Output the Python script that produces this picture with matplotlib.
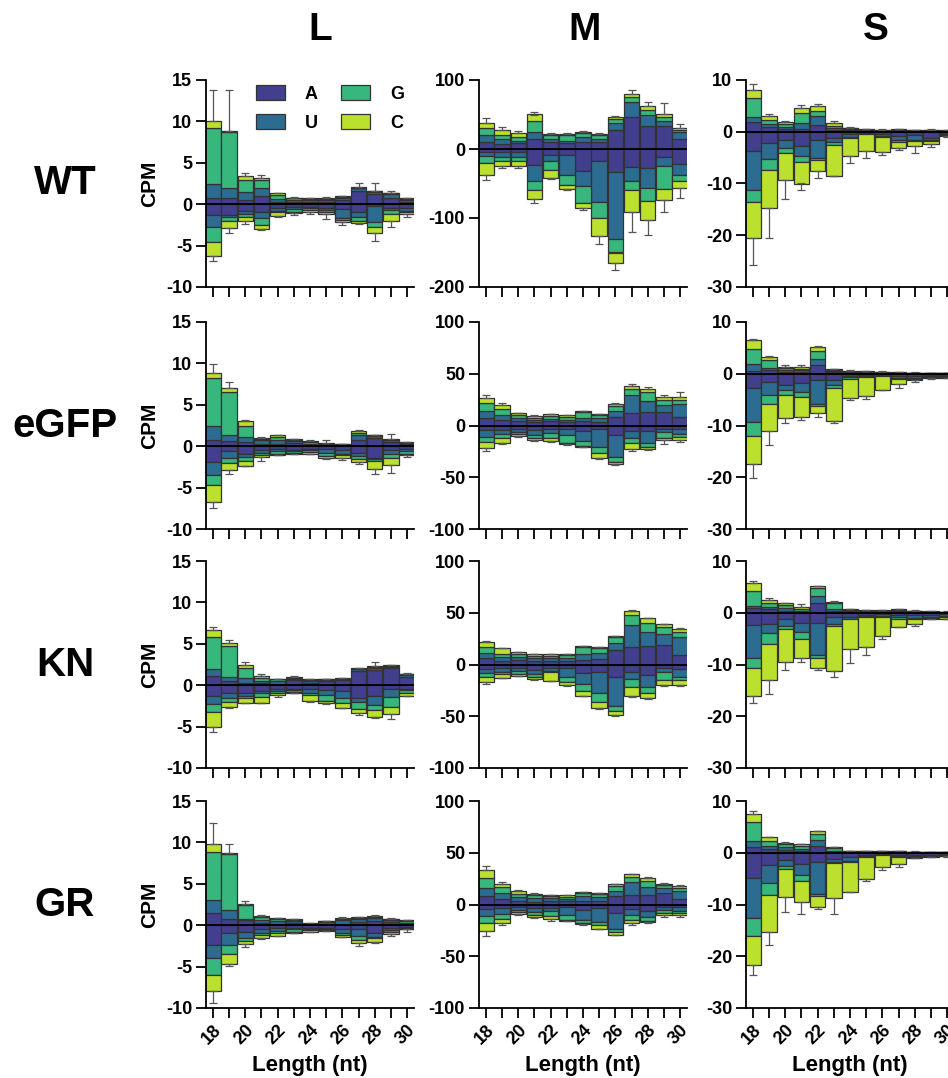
import numpy as np
import matplotlib
matplotlib.use("Agg")
import matplotlib.pyplot as plt
from matplotlib.patches import Patch

plt.rcParams['font.family'] = ['Liberation Sans', 'DejaVu Sans']
plt.rcParams['axes.unicode_minus'] = False

lengths = list(range(18, 31))
nucleotides = ["A", "U", "G", "C"]
nuc_colors = ["#413f8e", "#2d6c91", "#38b77c", "#bce02e"]
row_names = ["WT", "eGFP", "KN", "GR"]
col_names = ["L", "M", "S"]

# ---------------- WT ----------------
WT_L_sense = [[.8, .8, .5, 1.0, .3, .3, .3, .3, .5, 1.6, 1.2, .8, .3],
              [1.6, 1.2, 1.0, 1.0, .3, .2, .2, .2, .3, .3, .3, .4, .2],
              [6.8, 6.7, 1.4, .9, .5, .2, .1, .1, .1, .1, .1, .1, .1],
              [.9, .2, .5, .3, .2, .1, .1, .1, .05, .1, .05, .1, .1]]
WT_L_anti = [[1.3, 1.3, .8, 1.0, .4, .3, .3, .4, .6, 1.0, .2, .4, .5],
             [1.5, .3, .4, .7, .4, .3, .2, .3, 1.1, .6, 2.0, .3, .3],
             [1.8, .4, .3, .8, .2, .3, .2, .2, .2, .4, .5, .5, .2],
             [1.6, .9, .5, .5, .4, .2, .2, .3, .2, .3, .8, .8, .2]]
WT_L_err_up = [3.7, 4.9, .4, .3, .1, .1, .1, .2, .1, .4, .9, .2, .1]
WT_L_err_dn = [.6, .6, .4, .1, .2, .2, .3, .6, .4, .1, .9, .7, .4]

WT_M_sense = [[10, 7, 8, 15, 10, 8, 10, 10, 27, 46, 34, 33, 14],
              [10, 7, 4, 10, 5, 4, 7, 5, 10, 22, 16, 7, 11],
              [10, 6, 6, 15, 5, 8, 6, 5, 6, 8, 7, 7, 3],
              [8, 7, 5, 10, 2, 2, 2, 2, 4, 4, 6, 4, 2]]
WT_M_anti = [[5, 5, 5, 23, 8, 8, 32, 17, 33, 26, 27, 12, 22],
             [5, 7, 7, 24, 10, 29, 21, 60, 97, 20, 30, 13, 15],
             [10, 6, 6, 13, 12, 15, 25, 23, 20, 14, 18, 33, 9],
             [17, 6, 6, 13, 12, 6, 8, 26, 15, 32, 28, 16, 11]]
WT_M_err_up = [7, 5, 3, 4, 1, 1, 1, 1, 1, 5, 5, 16, 6]
WT_M_err_dn = [8, 4, 4, 5, 1, 1, 2, 12, 11, 28, 22, 17, 14]

WT_S_sense = [[1.8, 1.0, .6, .5, 1.3, .3, .3, .2, .1, .2, .1, .1, .1],
              [1.0, .5, .4, 1.2, 1.7, .4, .2, .1, .1, .1, .1, .1, .05],
              [3.7, .8, .5, 1.9, 1.1, .5, .2, .1, .1, .1, .05, .1, .05],
              [1.5, .7, .3, .9, .9, .5, .1, .1, .1, .1, .05, .1, .1]]
WT_S_anti = [[3.8, 2.2, 1.5, 2.8, 1.6, 1.2, .5, .3, .4, .8, .7, 1.2, .3],
             [7.4, 3.1, 1.7, 1.9, 3.4, .8, .5, .1, .4, .7, .8, .4, .2],
             [2.3, 2.1, 1.0, 1.2, .5, .5, .2, .1, .2, .4, .3, .2, .1],
             [7.1, 7.3, 5.1, 4.1, 2.1, 6.0, 3.5, 3.2, 2.9, 1.2, .9, .6, .2]]
WT_S_err_up = [1.2, .4, .2, .7, .3, .3, .1, .1, .1, .1, .1, .2, .1]
WT_S_err_dn = [5.2, 5.9, 3.7, 1.3, 1.3, .1, 1.4, 1.3, .6, .5, 1.4, .5, .2]

# ---------------- eGFP ----------------
eGFP_L_sense = [[.7, .6, .5, .3, .3, .4, .2, .1, .1, .8, 1.0, .5, .2],
                [1.8, .7, .6, .4, .4, .2, .1, .1, .1, .5, .2, .2, .1],
                [5.7, 5.2, 1.4, .2, .4, .2, .2, .1, .05, .3, .1, .1, .1],
                [.6, .5, .5, .1, .2, .1, .1, .1, .05, .2, .1, .1, .1]]
eGFP_L_anti = [[1.9, .6, 1.0, .5, .3, .4, .3, .3, .5, .8, 1.4, .4, .3],
               [1.6, .8, .3, .3, .3, .2, .2, .5, .4, .4, .2, .5, .3],
               [1.2, .6, .5, .3, .3, .2, .2, .4, .2, .3, .2, .5, .3],
               [2.0, .9, .6, .2, .2, .1, .2, .2, .3, .4, 1.0, .9, .2]]
eGFP_L_err_up = [1.1, .8, .2, .1, 0, 0, .2, .3, 0, .2, 0, .6, 0]
eGFP_L_err_dn = [.8, .5, 0, .5, 0, .1, .1, .1, .3, .2, .6, .9, .2]

eGFP_M_sense = [[7, 5, 4, 3, 4, 3, 4, 3, 8, 12, 13, 13, 8],
                [7, 5, 3, 2, 2, 2, 3, 4, 6, 17, 11, 7, 13],
                [8, 6, 3, 2, 3, 3, 6, 3, 5, 6, 8, 5, 4],
                [5, 4, 2, 2, 2, 2, 1, 1, 2, 3, 3, 3, 3]]
eGFP_M_anti = [[4, 4, 3, 4, 3, 3, 5, 3, 9, 5, 5, 3, 3],
               [7, 4, 3, 5, 4, 6, 10, 18, 21, 7, 12, 3, 5],
               [5, 4, 2, 3, 5, 8, 5, 6, 5, 5, 4, 6, 3],
               [6, 5, 2, 2, 3, 1, 1, 4, 2, 6, 2, 2, 3]]
eGFP_M_err_up = [2, 2, 0, 1, 0, 0, 0, 0, 1, 2, 2, 1, 4]
eGFP_M_err_dn = [3, 1, 1, 1, 1, 1, 0, 1, 1, 2, 1, 4, 2]

eGFP_S_sense = [[.5, .8, .4, .4, 1.7, .3, .2, .2, .1, .1, .1, .1, .05],
                [1.3, .4, .3, .3, 1.1, .2, .1, .1, .1, .1, 0, 0, .05],
                [3.0, 1.4, .4, .3, 1.6, .2, .1, .1, .1, 0, 0, 0, 0],
                [1.8, .6, .3, .3, .7, .2, .2, .1, .1, .1, .1, 0, 0]]
eGFP_S_anti = [[2.7, 1.5, 2.1, 1.8, 1.3, 1.2, .4, .3, .2, .4, .5, .3, .2],
               [6.6, 2.7, 1.0, 1.8, 4.5, 1.0, .3, .2, .1, .4, .4, .2, .3],
               [2.7, 1.7, 1.0, .9, .5, .6, .3, .2, .1, .2, .1, .1, .1],
               [5.4, 5.2, 4.5, 3.9, 1.3, 6.4, 3.6, 3.6, 2.8, .9, .3, .2, .2]]
eGFP_S_err_up = [.1, .3, .2, .3, .2, .1, .1, 0, .1, 0, .1, .1, .1]
eGFP_S_err_dn = [2.8, 2.7, .9, .6, .7, .4, .5, .5, 0, .8, .2, .2, .1]

# ---------------- KN ----------------
KN_L_sense = [[1.1, .5, .3, .3, .2, .6, .3, .5, .6, 1.7, 1.8, 2.1, 1.0],
              [.9, .5, .6, .2, .3, .2, .2, .1, .1, .2, .3, .1, .2],
              [3.8, 3.7, 1.2, .4, .2, .1, .1, .1, .1, .1, .1, .1, .1],
              [.9, .4, .4, .2, .1, .1, .1, .1, .1, .1, .1, .1, .1]]
KN_L_anti = [[1.3, 1.0, .9, .7, .4, .4, .5, .6, .7, 1.5, 1.3, .5, .4],
             [1.0, .5, .4, .3, .3, .2, .4, .6, .9, .5, 1.1, .9, .2],
             [.9, .5, .3, .4, .2, .2, .3, .7, .6, .9, .6, 1.2, .3],
             [1.9, .6, .5, .7, .3, .1, .7, .3, .6, .5, .8, .9, .4]]
KN_L_err_up = [.3, .4, .3, .2, 0, .1, .1, 0, 0, 0, .5, 0, .1]
KN_L_err_dn = [.5, .2, 0, 0, .2, .1, .1, .1, 0, .2, .2, .6, 0]

KN_M_sense = [[6, 3, 4, 3, 3, 3, 4, 5, 14, 17, 18, 19, 9],
              [5, 4, 3, 3, 3, 3, 6, 6, 7, 21, 13, 10, 18],
              [6, 3, 3, 2, 2, 3, 7, 5, 6, 10, 9, 7, 4],
              [5, 6, 2, 2, 2, 1, 1, 1, 1, 4, 5, 3, 3]]
KN_M_anti = [[4, 3, 3, 5, 3, 3, 8, 7, 12, 7, 10, 3, 4],
             [4, 4, 3, 4, 3, 9, 11, 21, 28, 7, 12, 4, 8],
             [4, 2, 3, 3, 1, 5, 7, 8, 5, 8, 6, 8, 3],
             [5, 4, 2, 2, 9, 3, 4, 6, 4, 8, 4, 5, 5]]
KN_M_err_up = [1, 0, 0, 0, 0, 0, 0, 0, 0, 1, 0, 0, 1]
KN_M_err_dn = [2, 0, 0, 1, 0, 1, 0, 1, 1, 1, 1, 1, 1]

KN_S_sense = [[1.0, .7, .4, .2, 1.8, .3, .3, .2, .2, .3, .2, .1, .05],
              [.4, .4, .5, .2, 1.4, .4, .2, .1, .1, .2, .1, .1, .05],
              [2.8, .7, .6, .3, 1.5, 1.1, .1, .1, .1, .1, 0, 0, .05],
              [1.6, .6, .4, .4, .4, .3, .1, .1, .1, .1, .1, .1, .05]]
KN_S_anti = [[2.4, 2.2, 1.3, 1.9, 1.9, .8, .8, .4, .3, .5, .5, .4, .3],
             [6.3, 1.8, 1.3, 1.8, 6.3, 1.3, .4, .3, .3, .4, .5, .4, .3],
             [1.9, 2.1, .5, 1.3, .5, .4, .1, .2, .2, .3, .3, .2, .3],
             [5.4, 6.9, 6.4, 3.8, 1.9, 8.7, 5.8, 5.7, 3.7, 1.5, .8, .3, .4]]
KN_S_err_up = [.3, .5, 0, .5, .1, .1, 0, 0, 0, .1, .1, .1, .1]
KN_S_err_dn = [1.4, 2.7, 1.5, .8, .4, 1.3, 2.7, 1.6, .6, .1, .4, 0, 0]

# ---------------- GR ----------------
GR_L_sense = [[1.5, .7, .6, .3, .2, .3, .1, .2, .2, .4, .5, .4, .2],
              [1.6, 1.1, .2, .3, .3, .2, .05, .2, .4, .3, .4, .2, .1],
              [5.7, 6.8, 1.6, .4, .2, .1, .05, .05, .2, .2, .1, .1, .2],
              [1.0, .1, .2, .1, .2, .1, .05, .05, .1, .1, .1, .05, .1]]
GR_L_anti = [[2.4, 1.0, .8, .5, .3, .3, .3, .3, .4, .5, 1.0, .3, .2],
             [1.6, 1.4, .7, .4, .4, .2, .2, .2, .5, .8, .4, .3, .1],
             [2.0, 1.1, .4, .3, .3, .3, .1, .1, .3, .5, .2, .2, .1],
             [1.9, 1.2, .4, .4, .3, .2, .2, .1, .2, .3, .4, .3, .1]]
GR_L_err_up = [2.5, 1.1, .3, .1, 0, 0, 0, 0, .1, 0, .1, .1, 0]
GR_L_err_dn = [1.5, .2, .3, .1, 0, 0, 0, 0, 0, .4, .1, .2, .3]

GR_M_sense = [[8, 5, 3, 2, 3, 3, 3, 3, 8, 9, 9, 11, 5],
              [8, 6, 4, 4, 3, 2, 5, 4, 5, 13, 8, 5, 8],
              [10, 6, 3, 3, 2, 2, 3, 3, 5, 5, 6, 3, 3],
              [7, 3, 3, 1, 1, 2, 1, 1, 2, 2, 3, 1, 2]]
GR_M_anti = [[4, 3, 2, 3, 3, 2, 5, 3, 8, 4, 6, 2, 2],
             [7, 6, 3, 4, 3, 8, 10, 14, 16, 6, 6, 3, 4],
             [7, 5, 2, 3, 5, 5, 3, 3, 3, 5, 4, 3, 2],
             [8, 4, 2, 2, 3, 1, 1, 4, 2, 3, 1, 2, 2]]
GR_M_err_up = [4, 2, 1, 1, 0, 0, 0, 0, 0, 0, 1, 1, 1]
GR_M_err_dn = [4, 2, 1, 1, 2, 0, 1, 0, 0, 2, 1, 2, 2]

GR_S_sense = [[1.2, .8, .5, .4, 1.3, .1, .1, .1, .1, .1, .1, .05, .05],
              [1.1, .5, .6, .4, 1.1, .2, .1, .1, .1, .1, 0, .05, .05],
              [3.6, 1.0, .5, .5, 1.3, .7, .1, .1, .1, .1, .1, 0, 0],
              [1.6, .7, .2, .3, .5, .1, .1, 0, 0, .1, 0, .1, 0]]
GR_S_anti = [[4.9, 2.4, 1.4, 2.1, 1.7, 1.2, .9, .4, .3, .4, .5, .4, .3],
             [7.7, 3.5, 1.2, 2.2, 6.3, .6, .6, .3, .1, .3, .2, .2, .2],
             [3.4, 2.3, .6, 1.1, .4, .2, .2, .2, .1, .2, .2, .1, .1],
             [5.6, 7.2, 5.3, 4.1, 2.0, 6.7, 5.8, 4.1, 2.3, 1.2, .1, .1, .1]]
GR_S_err_up = [.5, .1, .3, .1, 0, .1, 0, 0, .1, 0, .1, 0, .1]
GR_S_err_dn = [2.1, 2.4, 2.9, 2.3, .5, 3.1, 0, .5, .6, .6, 0, .1, .1]

# y-axis setups per column (row 0 of M differs)
L_limits, L_ticks = (-10, 15), [-10, -5, 0, 5, 10, 15]
M_limits_WT, M_ticks_WT = (-200, 100), [-200, -100, 0, 100]
M_limits, M_ticks = (-100, 100), [-100, -50, 0, 50, 100]
S_limits, S_ticks = (-30, 10), [-30, -20, -10, 0, 10]

panels = {
    ("WT", "L"): (WT_L_sense, WT_L_anti, WT_L_err_up, WT_L_err_dn),
    ("WT", "M"): (WT_M_sense, WT_M_anti, WT_M_err_up, WT_M_err_dn),
    ("WT", "S"): (WT_S_sense, WT_S_anti, WT_S_err_up, WT_S_err_dn),
    ("eGFP", "L"): (eGFP_L_sense, eGFP_L_anti, eGFP_L_err_up, eGFP_L_err_dn),
    ("eGFP", "M"): (eGFP_M_sense, eGFP_M_anti, eGFP_M_err_up, eGFP_M_err_dn),
    ("eGFP", "S"): (eGFP_S_sense, eGFP_S_anti, eGFP_S_err_up, eGFP_S_err_dn),
    ("KN", "L"): (KN_L_sense, KN_L_anti, KN_L_err_up, KN_L_err_dn),
    ("KN", "M"): (KN_M_sense, KN_M_anti, KN_M_err_up, KN_M_err_dn),
    ("KN", "S"): (KN_S_sense, KN_S_anti, KN_S_err_up, KN_S_err_dn),
    ("GR", "L"): (GR_L_sense, GR_L_anti, GR_L_err_up, GR_L_err_dn),
    ("GR", "M"): (GR_M_sense, GR_M_anti, GR_M_err_up, GR_M_err_dn),
    ("GR", "S"): (GR_S_sense, GR_S_anti, GR_S_err_up, GR_S_err_dn),
}

W, H = 948, 1078
fig = plt.figure(figsize=(W / 100, H / 100), dpi=100)

col_left_px = {"L": 206, "M": 479, "S": 746}
ax_w_px = 208
row_top_px = [80, 322, 561, 801]
ax_h_px = 207

x = np.array(lengths)
edge = "#333333"

for ri, rname in enumerate(row_names):
    for cname in col_names:
        sense, anti, eup, edn = panels[(rname, cname)]
        left = col_left_px[cname] / W
        bottom = 1 - (row_top_px[ri] + ax_h_px) / H
        ax = fig.add_axes([left, bottom, ax_w_px / W, ax_h_px / H])

        pos_base = np.zeros(len(x))
        neg_base = np.zeros(len(x))
        for ni, nuc in enumerate(nucleotides):
            s = np.array(sense[ni], dtype=float)
            a = np.array(anti[ni], dtype=float)
            ax.bar(x, s, bottom=pos_base, width=0.96, color=nuc_colors[ni],
                   edgecolor=edge, linewidth=0.9, zorder=2)
            ax.bar(x, -a, bottom=-neg_base, width=0.96, color=nuc_colors[ni],
                   edgecolor=edge, linewidth=0.9, zorder=2)
            pos_base = pos_base + s
            neg_base = neg_base + a

        ax.errorbar(x, pos_base, yerr=[np.zeros(len(x)), np.array(eup)],
                    fmt="none", ecolor="#555555", elinewidth=0.9, capsize=3,
                    capthick=0.9, zorder=3)
        ax.errorbar(x, -neg_base, yerr=[np.array(edn), np.zeros(len(x))],
                    fmt="none", ecolor="#555555", elinewidth=0.9, capsize=3,
                    capthick=0.9, zorder=3)
        ax.axhline(0, color="black", lw=1.3, zorder=4)

        if cname == "L":
            lims, ticks = L_limits, L_ticks
        elif cname == "M":
            lims, ticks = (M_limits_WT, M_ticks_WT) if rname == "WT" else (M_limits, M_ticks)
        else:
            lims, ticks = S_limits, S_ticks
        ax.set_ylim(*lims)
        ax.set_yticks(ticks)
        ax.set_yticklabels([str(t) for t in ticks], fontsize=13, fontweight="bold")
        ax.set_xlim(17.57, 30.43)
        ax.set_xticks(lengths)
        if ri == len(row_names) - 1:
            ax.set_xticklabels([str(l) if l % 2 == 0 else "" for l in lengths],
                               rotation=45, ha="right", rotation_mode="anchor",
                               fontsize=13, fontweight="bold")
            ax.set_xlabel("Length (nt)", fontsize=16, fontweight="bold", labelpad=5)
        else:
            ax.set_xticklabels([])

        for side in ("top", "right"):
            ax.spines[side].set_visible(False)
        for side in ("left", "bottom"):
            ax.spines[side].set_linewidth(1.3)
        ax.tick_params(axis="both", length=7, width=1.3, direction="out", pad=3)

        if cname == "L":
            ax.set_ylabel("CPM", fontsize=15, fontweight="bold", labelpad=5)

        if ri == 0 and cname == "L":
            handles = [Patch(facecolor=nuc_colors[i], edgecolor=edge, linewidth=0.9)
                       for i in range(4)]
            ax.legend(handles, nucleotides, ncol=2, loc="upper left",
                      bbox_to_anchor=(0.24, 0.975), frameon=False,
                      prop={"size": 13, "weight": "bold"},
                      handlelength=1.6, handleheight=0.85, handletextpad=1.1,
                      columnspacing=1.3, labelspacing=0.65, borderpad=0,
                      borderaxespad=0)

    yc = 1 - (row_top_px[ri] + ax_h_px / 2) / H
    fig.text(65 / W, yc, rname, fontsize=29, fontweight="bold", ha="center", va="center")

for cname, xc in zip(col_names, [320, 585, 876]):
    fig.text(xc / W, 1 - 30 / H, cname, fontsize=28, fontweight="bold",
             ha="center", va="center")

fig.savefig("out.png", dpi=100)
